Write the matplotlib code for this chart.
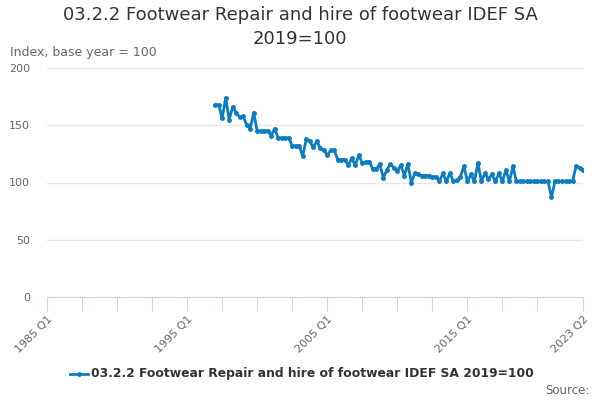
import matplotlib
matplotlib.use("Agg")
import matplotlib.pyplot as plt

# --- Data: quarterly index, 1997 Q1 to 2023 Q2 ---
START_YEAR = 1997
AXIS_START_YEAR = 1985
index_values = [
    168, 168, 156, 174, 155, 166, 161, 157, 158, 150, 147, 161,
    145, 145, 145, 145, 141, 147, 139, 139, 139, 139,
    132, 132, 132, 123, 138, 136, 131, 136, 130, 128,
    124, 128, 128, 120, 120, 120, 115, 121, 115, 124,
    117, 118, 118, 112, 112, 116, 104, 111, 116, 113,
    110, 115, 106, 116, 100, 108, 107, 106, 106, 106,
    105, 105, 101, 108, 101, 108, 101, 102, 105, 114,
    101, 107, 101, 117, 101, 108, 103, 107, 101, 108,
    101, 111, 101, 114, 101, 101, 101, 101, 101, 101,
    101, 101, 101, 101, 87, 101, 101, 101, 101, 101,
    101, 114, 113, 111,
]
# ticks every 10 quarters from 1985 Q1, plus the last quarter (2023 Q2)
tick_quarters = [0, 10, 20, 30, 40, 50, 60, 70, 80, 90, 100, 110, 120, 130, 140, 153]
tick_labels = ["1985 Q1", "", "", "", "1995 Q1", "", "", "", "2005 Q1", "", "", "",
               "2015 Q1", "", "", "2023 Q2"]

series_name = "03.2.2 Footwear Repair and hire of footwear IDEF SA 2019=100"
LINE_COLOR = "#0d7cc1"
GREY = "#666666"

offset = (START_YEAR - AXIS_START_YEAR) * 4
xs = [offset + i for i in range(len(index_values))]

fig = plt.figure(figsize=(6, 4), dpi=100)
ax = fig.add_axes([0.0783, 0.2575, 0.8934, 0.5725])

ax.plot(xs, index_values, color=LINE_COLOR, linewidth=2, marker="o",
        markersize=2.5, zorder=3)

ax.set_xlim(0, 153)
ax.set_ylim(0, 200)
ax.set_yticks([0, 50, 100, 150, 200])
ax.grid(axis="y", color="#e6e6e6", linewidth=1)
ax.set_axisbelow(True)

ax.set_xticks(tick_quarters)
ax.set_xticklabels(tick_labels, rotation=45, ha="right", rotation_mode="anchor")

for side in ["top", "right", "left"]:
    ax.spines[side].set_visible(False)
ax.spines["bottom"].set_color("#ccd6eb")
ax.tick_params(axis="x", length=10, color="#ccd6eb", labelsize=8,
               labelcolor=GREY, pad=2)
ax.tick_params(axis="y", length=0, labelsize=8, labelcolor=GREY, pad=12)

fig.text(0.5, 0.985, "03.2.2 Footwear Repair and hire of footwear IDEF SA\n2019=100",
         ha="center", va="top", fontsize=13, color="#333333", linespacing=1.4)
fig.text(0.017, 0.868, "Index, base year = 100", fontsize=9, color=GREY, va="center")

# legend
fig.lines.append(plt.Line2D([0.117, 0.147], [0.065, 0.065], transform=fig.transFigure,
                            color=LINE_COLOR, linewidth=2))
fig.lines.append(plt.Line2D([0.132], [0.065], transform=fig.transFigure,
                            color=LINE_COLOR, marker="o", markersize=2.5))
fig.text(0.152, 0.065, series_name, fontsize=8.9, fontweight="bold",
         color="#333333", va="center")
fig.text(0.982, 0.025, "Source:", fontsize=8.5, color=GREY, ha="right", va="center")

fig.savefig("out.png", dpi=100)
